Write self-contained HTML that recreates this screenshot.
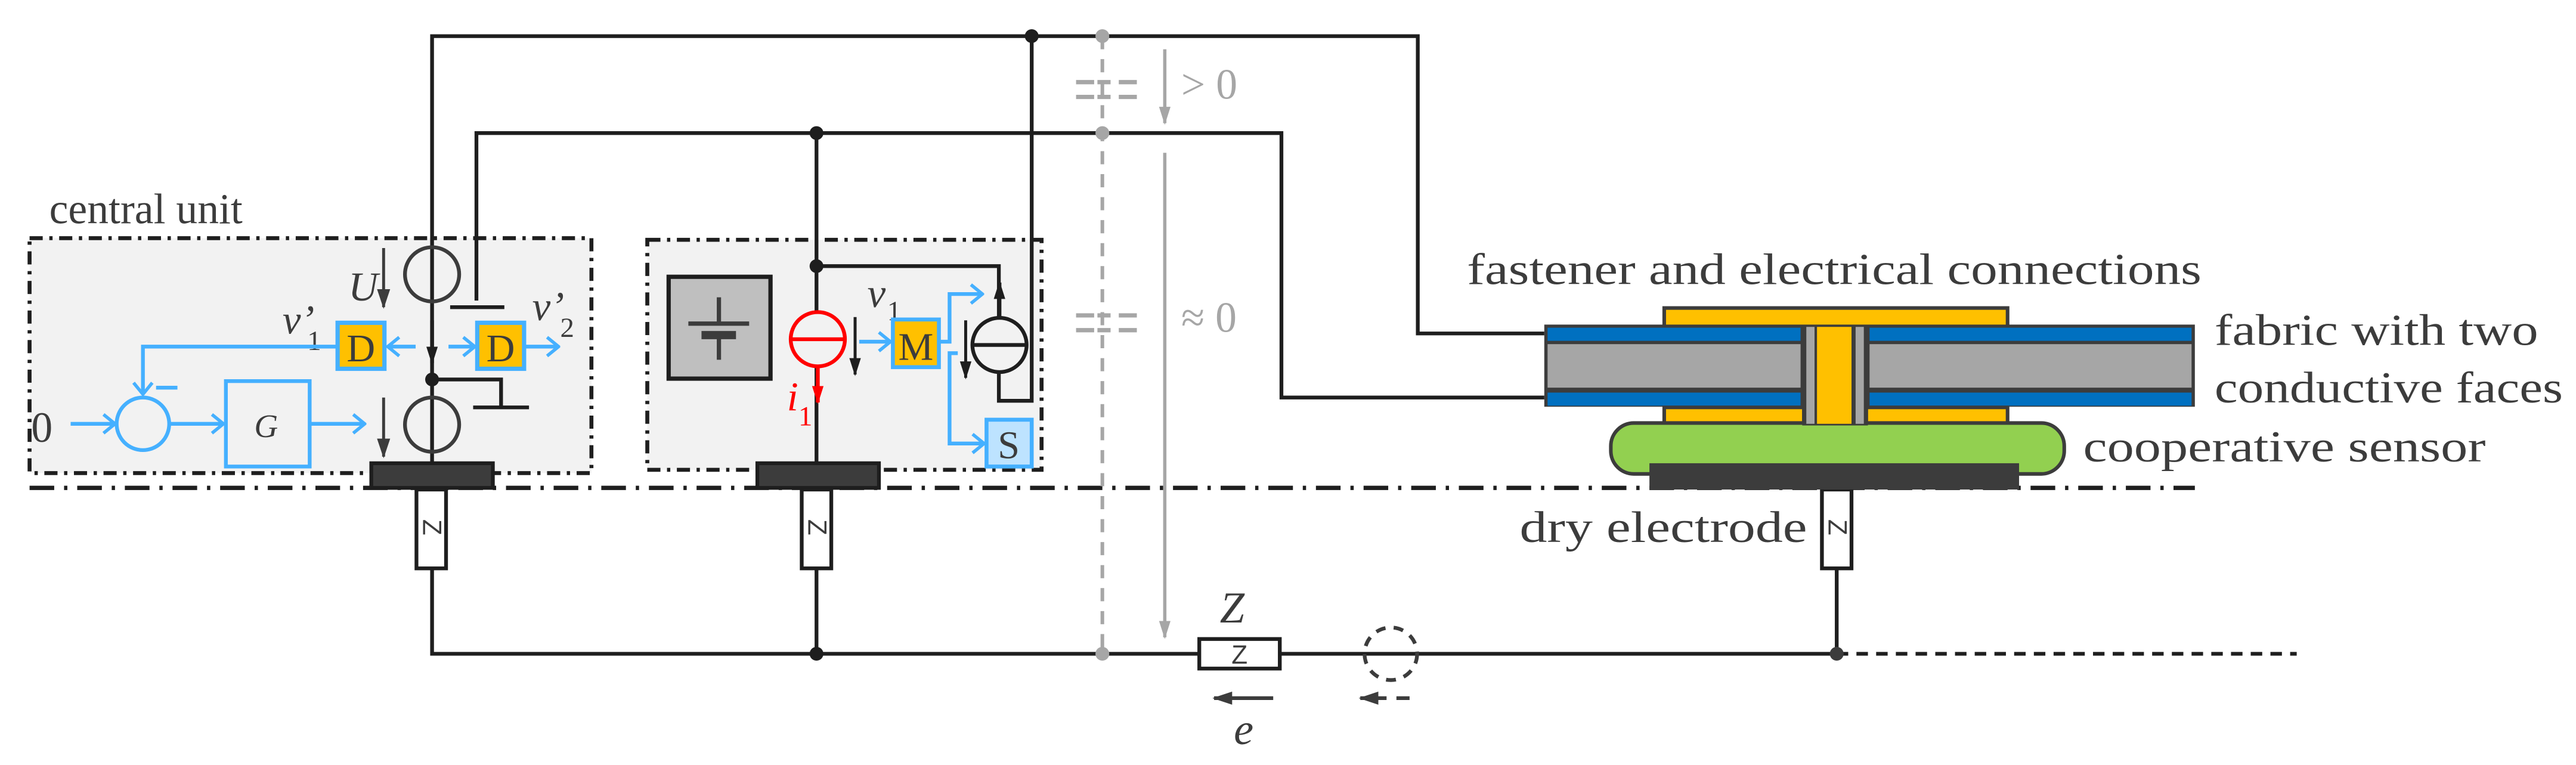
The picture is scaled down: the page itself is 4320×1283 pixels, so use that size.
<!DOCTYPE html>
<html><head><meta charset="utf-8"><style>
html,body{margin:0;padding:0;background:#fff;}
svg{display:block;}
text{font-family:"Liberation Serif",serif;fill:#3c3c3c;}
</style></head><body>
<svg width="4320" height="1283" viewBox="0 0 1568 465.7" preserveAspectRatio="none" xmlns="http://www.w3.org/2000/svg">
<defs>
<marker id="ab" markerWidth="11" markerHeight="8" refX="10" refY="4" orient="auto" markerUnits="userSpaceOnUse"><path d="M0,0.5 L11,4 L0,7.5 Z" fill="#1e1e1e"/></marker>
<marker id="adk" markerWidth="12" markerHeight="9" refX="11" refY="4.5" orient="auto" markerUnits="userSpaceOnUse"><path d="M0,0.5 L12,4.5 L0,8.5 Z" fill="#3c3c3c"/></marker>
<marker id="ag" markerWidth="11" markerHeight="9" refX="10" refY="4.5" orient="auto" markerUnits="userSpaceOnUse"><path d="M0,1 L11,4.5 L0,8 Z" fill="#a6a6a6"/></marker>
<marker id="ar" markerWidth="11" markerHeight="8" refX="10" refY="4" orient="auto" markerUnits="userSpaceOnUse"><path d="M0,0.5 L11,4 L0,7.5 Z" fill="#ff0000"/></marker>
<marker id="abl" markerWidth="9" markerHeight="13" refX="8" refY="6.5" orient="auto" markerUnits="userSpaceOnUse"><path d="M1,0.8 L8,6.5 L1,12.2" fill="none" stroke="#45b0ff" stroke-width="2"/></marker>
</defs>

<!-- dash-dot boxes -->
<rect x="18" y="145" width="342" height="143" fill="#f2f2f2" stroke="#1e1e1e" stroke-width="2.4" stroke-dasharray="8,4,2,4"/>
<rect x="394" y="146" width="240" height="140" fill="#f2f2f2" stroke="#1e1e1e" stroke-width="2.4" stroke-dasharray="8,4,2,4"/>
<line x1="18" y1="297" x2="1336" y2="297" stroke="#1e1e1e" stroke-width="2.6" stroke-dasharray="15,6,2,6"/>

<text x="30" y="136" font-size="26">central unit</text>

<!-- gray dashed vertical -->
<line x1="671" y1="22" x2="671" y2="398" stroke="#a6a6a6" stroke-width="2.2" stroke-dasharray="8,6"/>
<g stroke="#a6a6a6" stroke-width="2.6">
<line x1="655" y1="50" x2="666" y2="50"/><line x1="668" y1="50" x2="676" y2="50"/><line x1="681" y1="50" x2="692" y2="50"/>
<line x1="655" y1="59" x2="666" y2="59"/><line x1="668" y1="59" x2="676" y2="59"/><line x1="681" y1="59" x2="692" y2="59"/>
<line x1="655" y1="192" x2="666" y2="192"/><line x1="668" y1="192" x2="676" y2="192"/><line x1="681" y1="192" x2="692" y2="192"/>
<line x1="655" y1="201" x2="666" y2="201"/><line x1="668" y1="201" x2="676" y2="201"/><line x1="681" y1="201" x2="692" y2="201"/>
</g>
<line x1="709" y1="30" x2="709" y2="75" stroke="#a6a6a6" stroke-width="2" marker-end="url(#ag)"/>
<line x1="709" y1="93" x2="709" y2="388" stroke="#a6a6a6" stroke-width="2" marker-end="url(#ag)"/>
<text x="719" y="60" font-size="26" style="fill:#a6a6a6">&gt; 0</text>
<text x="719" y="202" font-size="26" style="fill:#a6a6a6">≈ 0</text>

<!-- main wires -->
<g fill="none" stroke="#1e1e1e" stroke-width="2.3">
<polyline points="263,281 263,22 863,22 863,203 940,203"/>
<polyline points="290,183 290,81 780,81 780,242 940,242"/>
<line x1="497" y1="81" x2="497" y2="190"/>
<line x1="497" y1="223" x2="497" y2="282"/>
<polyline points="497,162 608,162 608,193"/>
<polyline points="608,227 608,244 628,244 628,22"/>
<line x1="274" y1="187" x2="307" y2="187"/>
<polyline points="263,231 305,231 305,248"/>
<line x1="288" y1="248" x2="322" y2="248"/>
<polyline points="263,346 263,398 729,398"/>
<line x1="497" y1="346" x2="497" y2="398"/>
<line x1="780" y1="398" x2="1118" y2="398"/>
<line x1="1118" y1="346" x2="1118" y2="398"/>
<line x1="1118" y1="398" x2="1398" y2="398" stroke-dasharray="7,5"/>
</g>
<!-- nodes -->
<circle cx="628" cy="22" r="4.2" fill="#1e1e1e"/>
<circle cx="497" cy="81" r="4.2" fill="#1e1e1e"/>
<circle cx="671" cy="22" r="4.2" fill="#a6a6a6"/>
<circle cx="671" cy="81" r="4.2" fill="#a6a6a6"/>
<circle cx="497" cy="162" r="4.2" fill="#1e1e1e"/>
<circle cx="263" cy="231" r="4.2" fill="#1e1e1e"/>
<circle cx="497" cy="398" r="4.2" fill="#1e1e1e"/>
<circle cx="671" cy="398" r="4.2" fill="#a6a6a6"/>
<circle cx="1118" cy="398" r="4.2" fill="#3c3c3c"/>

<!-- central unit internals -->
<circle cx="263" cy="167" r="16.5" fill="none" stroke="#3c3c3c" stroke-width="2.3"/>
<circle cx="263" cy="258.5" r="16.5" fill="none" stroke="#3c3c3c" stroke-width="2.3"/>
<line x1="263" y1="195" x2="263" y2="221" stroke="#1e1e1e" stroke-width="2.3" marker-end="url(#ab)"/>
<line x1="233.5" y1="151" x2="233.5" y2="187" stroke="#3c3c3c" stroke-width="1.8" marker-end="url(#adk)"/>
<line x1="233.5" y1="242" x2="233.5" y2="278" stroke="#3c3c3c" stroke-width="1.8" marker-end="url(#adk)"/>
<text x="212" y="183" font-size="25" font-style="italic">U</text>
<text x="172" y="203" font-size="25" font-style="italic">v’</text><text x="187" y="213" font-size="17">1</text>
<text x="324" y="195" font-size="25" font-style="italic">v’</text><text x="341" y="205" font-size="17">2</text>
<rect x="205.5" y="196.5" width="28.5" height="28" fill="#ffc000" stroke="#45b0ff" stroke-width="2.6"/>
<rect x="290.5" y="196.5" width="28.5" height="28" fill="#ffc000" stroke="#45b0ff" stroke-width="2.6"/>
<text x="219.7" y="220" font-size="24" text-anchor="middle">D</text>
<text x="304.7" y="220" font-size="24" text-anchor="middle">D</text>
<g fill="none" stroke="#45b0ff" stroke-width="2.3">
<line x1="253" y1="211" x2="236" y2="211" marker-end="url(#abl)"/>
<line x1="273" y1="211" x2="289" y2="211" marker-end="url(#abl)"/>
<line x1="320" y1="211" x2="340" y2="211" marker-end="url(#abl)"/>
<polyline points="205,211 87,211 87,240" marker-end="url(#abl)"/>
<line x1="95" y1="236" x2="108" y2="236"/>
<circle cx="87" cy="258" r="16"/>
<line x1="43" y1="258" x2="70" y2="258" marker-end="url(#abl)"/>
<line x1="104" y1="258" x2="136" y2="258" marker-end="url(#abl)"/>
<rect x="137.5" y="232" width="51" height="52"/>
<line x1="189" y1="258" x2="222" y2="258" marker-end="url(#abl)"/>
</g>
<text x="162" y="266" font-size="20" font-style="italic" text-anchor="middle">G</text>
<text x="19" y="269" font-size="26">0</text>

<!-- bars -->
<rect x="226" y="282" width="74" height="15" fill="#3c3c3c" stroke="#1e1e1e" stroke-width="2.3"/>
<rect x="461" y="282" width="74" height="15" fill="#3c3c3c" stroke="#1e1e1e" stroke-width="2.3"/>

<!-- second box internals -->
<rect x="407" y="168.5" width="62" height="62" fill="#bfbfbf" stroke="#1e1e1e" stroke-width="2.6"/>
<line x1="437.6" y1="181" x2="437.6" y2="197" stroke="#3c3c3c" stroke-width="2.6"/>
<line x1="419" y1="197" x2="456" y2="197" stroke="#3c3c3c" stroke-width="2.6"/>
<line x1="427" y1="204" x2="448" y2="204" stroke="#3c3c3c" stroke-width="5"/>
<line x1="437.6" y1="206" x2="437.6" y2="219" stroke="#3c3c3c" stroke-width="2.6"/>
<circle cx="497.8" cy="206.5" r="16.5" fill="#f2f2f2" stroke="#ff0000" stroke-width="2.3"/>
<line x1="481" y1="206.5" x2="514" y2="206.5" stroke="#ff0000" stroke-width="2.3"/>
<line x1="497.8" y1="223" x2="497.8" y2="245" stroke="#ff0000" stroke-width="2.3" marker-end="url(#ar)"/>
<text x="479" y="250" font-size="25" font-style="italic" style="fill:#ff0000">i</text><text x="486" y="259" font-size="17" style="fill:#ff0000">1</text>
<text x="528" y="187" font-size="25" font-style="italic">v</text><text x="540" y="195" font-size="17">1</text>
<line x1="520.5" y1="193" x2="520.5" y2="228" stroke="#1e1e1e" stroke-width="1.8" marker-end="url(#ab)"/>
<line x1="587.8" y1="195" x2="587.8" y2="230" stroke="#1e1e1e" stroke-width="1.8" marker-end="url(#ab)"/>
<circle cx="608.4" cy="210" r="16.5" fill="none" stroke="#1e1e1e" stroke-width="2.3"/>
<line x1="592" y1="210" x2="625" y2="210" stroke="#1e1e1e" stroke-width="2.3"/>
<line x1="608.4" y1="193" x2="608.4" y2="172" stroke="#1e1e1e" stroke-width="2.3" marker-end="url(#ab)"/>
<g fill="none" stroke="#45b0ff" stroke-width="2.3">
<line x1="523" y1="208" x2="542" y2="208" marker-end="url(#abl)"/>
<polyline points="572,208 578,208 578,179 598,179" marker-end="url(#abl)"/>
<polyline points="583,215 578,215 578,270 599,270" marker-end="url(#abl)"/>
</g>
<rect x="543.5" y="194.5" width="28" height="29" fill="#ffc000" stroke="#45b0ff" stroke-width="2.4"/>
<text x="557.5" y="219" font-size="24" text-anchor="middle">M</text>
<rect x="600.5" y="255.5" width="27.5" height="28.5" fill="#bde3ff" stroke="#45b0ff" stroke-width="2.4"/>
<text x="614" y="279" font-size="24" text-anchor="middle">S</text>

<!-- vertical resistors -->
<g fill="#fff" stroke="#1e1e1e" stroke-width="2.3">
<rect x="253.5" y="298" width="18" height="48"/>
<rect x="488" y="298" width="18" height="48"/>
<rect x="1109" y="298" width="18" height="48"/>
</g>
<text transform="translate(262.5,321) rotate(90)" text-anchor="middle" dy="5" font-size="16" style="font-family:'Liberation Sans',sans-serif">Z</text>
<text transform="translate(497,321) rotate(90)" text-anchor="middle" dy="5" font-size="16" style="font-family:'Liberation Sans',sans-serif">Z</text>
<text transform="translate(1118,321) rotate(90)" text-anchor="middle" dy="5" font-size="16" style="font-family:'Liberation Sans',sans-serif">Z</text>

<!-- bottom Z, e -->
<rect x="730" y="389" width="49" height="18" fill="#fff" stroke="#1e1e1e" stroke-width="2.3"/>
<text x="754.5" y="404" font-size="16" text-anchor="middle" style="font-family:'Liberation Sans',sans-serif">Z</text>
<text x="750" y="379" font-size="27" font-style="italic" text-anchor="middle">Z</text>
<line x1="775" y1="425" x2="739" y2="425" stroke="#3c3c3c" stroke-width="2.3" marker-end="url(#adk)"/>
<text x="757" y="453" font-size="27" font-style="italic" text-anchor="middle">e</text>
<circle cx="846.6" cy="398" r="16" fill="none" stroke="#3c3c3c" stroke-width="2.3" stroke-dasharray="6,5"/>
<line x1="858" y1="425" x2="850" y2="425" stroke="#3c3c3c" stroke-width="2.3"/>
<line x1="844" y1="425" x2="828" y2="425" stroke="#3c3c3c" stroke-width="2.3" marker-end="url(#adk)"/>

<!-- fabric / sensor -->
<rect x="1013" y="187.5" width="209" height="12" fill="#ffc000" stroke="#3c3c3c" stroke-width="2.2"/>
<rect x="940" y="197.6" width="396" height="50" fill="#3c3c3c"/>
<rect x="942" y="199.5" width="154" height="8" fill="#0070c0"/>
<rect x="942" y="209.5" width="154" height="26.5" fill="#a6a6a6"/>
<rect x="942" y="239" width="154" height="8" fill="#0070c0"/>
<rect x="1138" y="199.5" width="196" height="8" fill="#0070c0"/>
<rect x="1138" y="209.5" width="196" height="26.5" fill="#a6a6a6"/>
<rect x="1138" y="239" width="196" height="8" fill="#0070c0"/>
<rect x="1013" y="248" width="85" height="11" fill="#ffc000" stroke="#3c3c3c" stroke-width="2.2"/>
<rect x="1136" y="248" width="86" height="11" fill="#ffc000" stroke="#3c3c3c" stroke-width="2.2"/>
<rect x="980.5" y="257.5" width="276" height="31" rx="14" ry="14" fill="#92d050" stroke="#3c3c3c" stroke-width="2.2"/>
<rect x="1097" y="198" width="40" height="61" fill="#3c3c3c"/>
<rect x="1099.5" y="199" width="5" height="59" fill="#a6a6a6"/>
<rect x="1129.5" y="199" width="5" height="59" fill="#a6a6a6"/>
<rect x="1106" y="199" width="21" height="59" fill="#ffc000"/>
<rect x="1004" y="282" width="225" height="16" fill="#3c3c3c"/>

<text x="893" y="173" font-size="27" textLength="447" lengthAdjust="spacingAndGlyphs">fastener and electrical connections</text>
<text x="1348" y="210" font-size="27" textLength="197" lengthAdjust="spacingAndGlyphs">fabric with two</text>
<text x="1348" y="245" font-size="27" textLength="212" lengthAdjust="spacingAndGlyphs">conductive faces</text>
<text x="1268" y="281" font-size="27" textLength="245" lengthAdjust="spacingAndGlyphs">cooperative sensor</text>
<text x="925" y="330" font-size="27" textLength="175" lengthAdjust="spacingAndGlyphs">dry electrode</text>
</svg>
</body></html>
